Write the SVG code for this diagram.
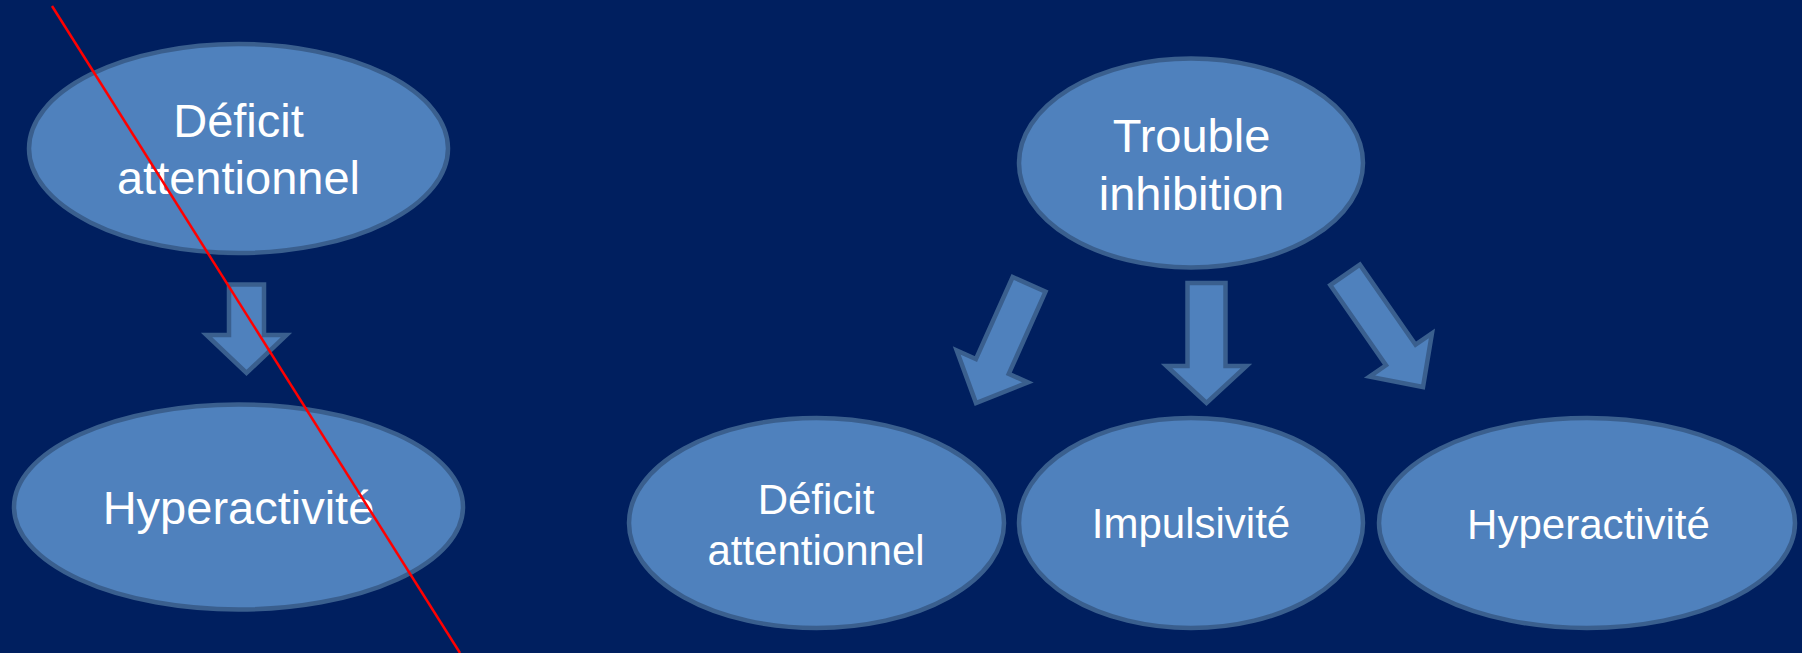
<svg xmlns="http://www.w3.org/2000/svg" width="1802" height="653" viewBox="0 0 1802 653">
  <style>
    .bubble { fill: #4F81BD; stroke: #3A5F8E; stroke-width: 4.5; }
    .arrow { fill: #4F81BD; stroke: #3A5F8E; stroke-width: 4.5; stroke-linejoin: miter; }
    .lbl { fill: #FFFFFF; font-family: "Liberation Sans", Arial, sans-serif; text-anchor: middle; }
    .big { font-size: 47px; }
    .small { font-size: 42px; }
  </style>

  <rect x="0" y="0" width="1802" height="653" fill="#001F5F"/>

  <!-- block arrows between the ellipses -->
  <g id="connectors">
    <polygon class="arrow" transform="translate(246.5,373)" points="-17.5,-88.5 17.5,-88.5 17.5,-38 40,-38 0,0 -40,-38 -17.5,-38"/>
    <polygon class="arrow" transform="translate(976,403) rotate(24.1)" points="-18,-130 18,-130 18,-40 39,-40 0,0 -39,-40 -18,-40"/>
    <polygon class="arrow" transform="translate(1206.5,403)" points="-19,-120 19,-120 19,-37 40,-37 0,0 -40,-37 -19,-37"/>
    <polygon class="arrow" transform="translate(1423,387) rotate(-34.8)" points="-18,-136.5 18,-136.5 18,-39 38,-39 0,0 -38,-39 -18,-39"/>
  </g>

  <!-- left chain -->
  <g id="node-deficit-left">
    <ellipse class="bubble" cx="238.5" cy="148.5" rx="209.5" ry="104.5"/>
    <text class="lbl big" x="238.5" y="137">Déficit</text>
    <text class="lbl big" x="238.5" y="194">attentionnel</text>
  </g>
  <g id="node-hyperactivite-left">
    <ellipse class="bubble" cx="238.5" cy="507" rx="224.5" ry="102.5"/>
    <text class="lbl big" x="238.5" y="523.5">Hyperactivité</text>
  </g>

  <!-- right tree -->
  <g id="node-trouble-inhibition">
    <ellipse class="bubble" cx="1191" cy="163" rx="172" ry="104.5"/>
    <text class="lbl big" x="1191.5" y="152">Trouble</text>
    <text class="lbl big" x="1191.5" y="209.5">inhibition</text>
  </g>
  <g id="node-deficit-right">
    <ellipse class="bubble" cx="816.5" cy="523" rx="187.5" ry="105"/>
    <text class="lbl small" x="816" y="513.5">Déficit</text>
    <text class="lbl small" x="816" y="565">attentionnel</text>
  </g>
  <g id="node-impulsivite">
    <ellipse class="bubble" cx="1191" cy="523" rx="172" ry="105"/>
    <text class="lbl small" x="1191" y="538">Impulsivité</text>
  </g>
  <g id="node-hyperactivite-right">
    <ellipse class="bubble" cx="1587" cy="523" rx="208" ry="105"/>
    <text class="lbl small" x="1588.5" y="538.5">Hyperactivité</text>
  </g>

  <!-- strike-through line over the left chain -->
  <line x1="52" y1="6" x2="460" y2="653" stroke="#FF0000" stroke-width="2.5"/>
</svg>
